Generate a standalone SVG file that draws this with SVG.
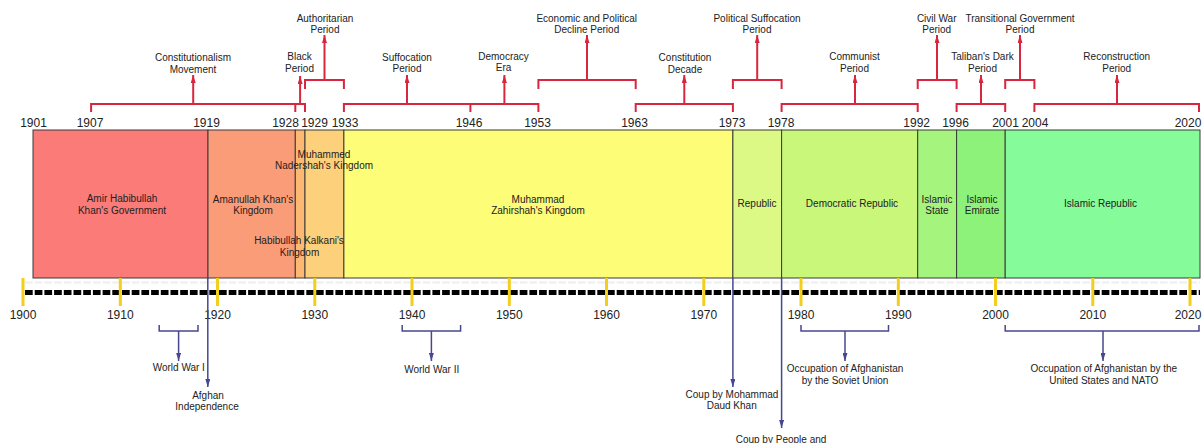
<svg xmlns="http://www.w3.org/2000/svg" width="1203" height="443" viewBox="0 0 1203 443">
<style>
text { font-family: "Liberation Sans", Arial, sans-serif; fill: #222; text-anchor: middle; }
.lbl { font-size: 10px; }
.yr { font-size: 12px; }
.box { stroke: #3a3a3a; stroke-width: 1; }
.red { stroke: #d8263f; stroke-width: 2; fill: none; }
.redA { stroke: #d8263f; stroke-width: 2; fill: none; marker-end: url(#ra); }
.blue { stroke: #474790; stroke-width: 1.5; fill: none; }
.blueA { stroke: #474790; stroke-width: 1.5; fill: none; marker-end: url(#ba); }
.tick { stroke: #f2cf1d; stroke-width: 3; }
</style>
<defs>
<marker id="ra" viewBox="0 0 8 5" refX="8" refY="2.5" markerWidth="8" markerHeight="5" markerUnits="userSpaceOnUse" orient="auto"><path d="M0,0 L8,2.5 L0,5 z" fill="#d8263f"/></marker>
<marker id="ba" viewBox="0 0 8 5" refX="8" refY="2.5" markerWidth="8" markerHeight="5" markerUnits="userSpaceOnUse" orient="auto"><path d="M0,0 L8,2.5 L0,5 z" fill="#474790"/></marker>
</defs>
<rect width="1203" height="443" fill="#ffffff"/>

<!-- eras -->
<g id="era-amir"><rect class="box" x="33" y="130" width="175" height="148" fill="#fa7b78"/>
<text class="lbl" x="122" y="201.5">Amir Habibullah</text><text class="lbl" x="122" y="214">Khan's Government</text></g>
<g id="era-amanullah"><rect class="box" x="208" y="130" width="87.3" height="148" fill="#fb9c78"/>
<text class="lbl" x="253" y="202.5">Amanullah Khan's</text><text class="lbl" x="253" y="214">Kingdom</text></g>
<g id="era-kalkani"><rect class="box" x="295.3" y="130" width="9.7" height="148" fill="#fdb872"/></g>
<g id="era-nadershah"><rect class="box" x="305" y="130" width="38.9" height="148" fill="#fdd07c"/></g>
<g id="era-zahirshah"><rect class="box" x="343.9" y="130" width="389" height="148" fill="#fdfd78"/>
<text class="lbl" x="538" y="202.5">Muhammad</text><text class="lbl" x="538" y="214">Zahirshah's Kingdom</text></g>
<g id="era-republic"><rect class="box" x="732.9" y="130" width="48.7" height="148" fill="#dcf885"/>
<text class="lbl" x="757" y="206.5">Republic</text></g>
<g id="era-democratic"><rect class="box" x="781.6" y="130" width="136.1" height="148" fill="#c8f77a"/>
<text class="lbl" x="852" y="206.5">Democratic Republic</text></g>
<g id="era-islamic-state"><rect class="box" x="917.7" y="130" width="38.9" height="148" fill="#a5f47e"/>
<text class="lbl" x="937" y="202.5">Islamic</text><text class="lbl" x="937" y="214">State</text></g>
<g id="era-emirate"><rect class="box" x="956.6" y="130" width="48.6" height="148" fill="#8df27a"/>
<text class="lbl" x="982" y="202.5">Islamic</text><text class="lbl" x="982" y="214">Emirate</text></g>
<g id="era-islamic-republic"><rect class="box" x="1005.2" y="130" width="194.8" height="148" fill="#86fb99"/>
<text class="lbl" x="1100.5" y="206.5">Islamic Republic</text></g>
<g id="era-labels-overlap">
<text class="lbl" x="324" y="157.7">Muhammed</text><text class="lbl" x="324" y="169">Nadershah's Kingdom</text>
<text class="lbl" x="299" y="244.3">Habibullah Kalkani's</text><text class="lbl" x="299.5" y="256">Kingdom</text>
</g>

<!-- top year labels -->
<g id="years-top" class="yr">
<text class="yr" x="33.5" y="126.5">1901</text>
<text class="yr" x="90" y="126.5">1907</text>
<text class="yr" x="206.5" y="126.5">1919</text>
<text class="yr" x="285.5" y="126.5">1928</text>
<text class="yr" x="314.5" y="126.5">1929</text>
<text class="yr" x="345" y="126.5">1933</text>
<text class="yr" x="469" y="126.5">1946</text>
<text class="yr" x="537.5" y="126.5">1953</text>
<text class="yr" x="634.5" y="126.5">1963</text>
<text class="yr" x="732" y="126.5">1973</text>
<text class="yr" x="781" y="126.5">1978</text>
<text class="yr" x="916.7" y="126.5">1992</text>
<text class="yr" x="955.5" y="126.5">1996</text>
<text class="yr" x="1005.5" y="126.5">2001</text>
<text class="yr" x="1035" y="126.5">2004</text>
<text class="yr" x="1188" y="126.5">2020</text>
</g>

<!-- axis -->
<g id="axis">
<line x1="25" y1="282.5" x2="1200" y2="282.5" stroke="#eeeeee" stroke-width="2" stroke-dasharray="7.7 2"/>
<line x1="25" y1="292.5" x2="1200" y2="292.5" stroke="#000" stroke-width="5" stroke-dasharray="7.7 2"/>
<line class="tick" x1="23" y1="278" x2="23" y2="306"/>
<line class="tick" x1="120.3" y1="278" x2="120.3" y2="306"/>
<line class="tick" x1="217.5" y1="278" x2="217.5" y2="306"/>
<line class="tick" x1="314.8" y1="278" x2="314.8" y2="306"/>
<line class="tick" x1="412" y1="278" x2="412" y2="306"/>
<line class="tick" x1="509.3" y1="278" x2="509.3" y2="306"/>
<line class="tick" x1="606.5" y1="278" x2="606.5" y2="306"/>
<line class="tick" x1="703.8" y1="278" x2="703.8" y2="306"/>
<line class="tick" x1="801" y1="278" x2="801" y2="306"/>
<line class="tick" x1="898.3" y1="278" x2="898.3" y2="306"/>
<line class="tick" x1="995.5" y1="278" x2="995.5" y2="306"/>
<line class="tick" x1="1092.8" y1="278" x2="1092.8" y2="306"/>
<line class="tick" x1="1190" y1="278" x2="1190" y2="306"/>
<text class="yr" x="23" y="319">1900</text>
<text class="yr" x="120.3" y="319">1910</text>
<text class="yr" x="217.5" y="319">1920</text>
<text class="yr" x="314.8" y="319">1930</text>
<text class="yr" x="412" y="319">1940</text>
<text class="yr" x="509.3" y="319">1950</text>
<text class="yr" x="606.5" y="319">1960</text>
<text class="yr" x="703.8" y="319">1970</text>
<text class="yr" x="801" y="319">1980</text>
<text class="yr" x="898.3" y="319">1990</text>
<text class="yr" x="995.5" y="319">2000</text>
<text class="yr" x="1092.8" y="319">2010</text>
<text class="yr" x="1188" y="319">2020</text>
</g>

<!-- connectors -->
<g id="connectors">
<path class="red" d="M91.1,112 V104 H305 V112 M295.3,104 V112"/>
<path class="redA" d="M193.2,104 V75"/>
<path class="redA" d="M300.1,104 V76"/>
<path class="red" d="M305,89 V80 H343.9 V89"/>
<path class="redA" d="M324.5,80 V35"/>
<path class="red" d="M343.9,112 V104 H538.4 V112 M470.4,104 V112"/>
<path class="redA" d="M407,104 V75"/>
<path class="redA" d="M504.4,104 V75"/>
<path class="red" d="M538.4,89 V80 H635.7 V89"/>
<path class="redA" d="M587,80 V35"/>
<path class="red" d="M635.7,112 V104 H732.9 V112"/>
<path class="redA" d="M684.3,104 V75"/>
<path class="red" d="M732.9,89 V80 H781.6 V89"/>
<path class="redA" d="M757.2,80 V35"/>
<path class="red" d="M781.6,112 V104 H917.7 V112"/>
<path class="redA" d="M855,104 V75"/>
<path class="red" d="M917.7,89 V80 H956.6 V89"/>
<path class="redA" d="M937,80 V35"/>
<path class="red" d="M956.6,112 V104 H1005.2 V112"/>
<path class="redA" d="M981,104 V75"/>
<path class="red" d="M1005.2,89 V80 H1034.4 V89"/>
<path class="redA" d="M1020,80 V35"/>
<path class="red" d="M1034.4,112 V104 H1199 V112"/>
<path class="redA" d="M1117,104 V75"/>

<path class="blue" d="M159.2,325 V331 H198 V325"/>
<path class="blueA" d="M178.6,331 V361"/>
<path class="blueA" d="M207.8,278 V387"/>
<path class="blue" d="M402.2,325 V331 H460.6 V325"/>
<path class="blueA" d="M431.4,331 V361"/>
<path class="blueA" d="M732.9,278 V387"/>
<path class="blueA" d="M781.6,278 V428"/>
<path class="blue" d="M801,325 V331 H888.5 V325"/>
<path class="blueA" d="M845,331 V361"/>
<path class="blue" d="M1005.2,325 V331 H1199 V325"/>
<path class="blueA" d="M1103,331 V361"/>
</g>

<!-- period labels -->
<g id="period-constitutionalism"><text class="lbl" x="193" y="61">Constitutionalism</text><text class="lbl" x="193" y="73">Movement</text></g>
<g id="period-black"><text class="lbl" x="299.5" y="60">Black</text><text class="lbl" x="299.5" y="72">Period</text></g>
<g id="period-authoritarian"><text class="lbl" x="325" y="21.5">Authoritarian</text><text class="lbl" x="325" y="33">Period</text></g>
<g id="period-suffocation"><text class="lbl" x="407" y="60.5">Suffocation</text><text class="lbl" x="407" y="72">Period</text></g>
<g id="period-democracy"><text class="lbl" x="503.5" y="59.5">Democracy</text><text class="lbl" x="503.5" y="71">Era</text></g>
<g id="period-economic"><text class="lbl" x="586.7" y="21.5">Economic and Political</text><text class="lbl" x="586.7" y="33">Decline Period</text></g>
<g id="period-constitution"><text class="lbl" x="685" y="61">Constitution</text><text class="lbl" x="685" y="72.5">Decade</text></g>
<g id="period-political"><text class="lbl" x="757" y="21.5">Political Suffocation</text><text class="lbl" x="757" y="33">Period</text></g>
<g id="period-communist"><text class="lbl" x="854.5" y="60">Communist</text><text class="lbl" x="854.5" y="71.5">Period</text></g>
<g id="period-civilwar"><text class="lbl" x="936.7" y="21.5">Civil War</text><text class="lbl" x="936.7" y="33">Period</text></g>
<g id="period-transitional"><text class="lbl" x="1020" y="21.5">Transitional Government</text><text class="lbl" x="1020" y="33">Period</text></g>
<g id="period-taliban"><text class="lbl" x="982.5" y="60">Taliban's Dark</text><text class="lbl" x="982.5" y="71.5">Period</text></g>
<g id="period-reconstruction"><text class="lbl" x="1116.7" y="60">Reconstruction</text><text class="lbl" x="1116.7" y="71.5">Period</text></g>

<!-- events -->
<g id="event-ww1"><text class="lbl" x="178.8" y="371">World War I</text></g>
<g id="event-independence"><text class="lbl" x="208" y="398.5">Afghan</text><text class="lbl" x="207" y="410">Independence</text></g>
<g id="event-ww2"><text class="lbl" x="431.7" y="372.5">World War II</text></g>
<g id="event-daud"><text class="lbl" x="732" y="397.5">Coup by Mohammad</text><text class="lbl" x="731.7" y="409.3">Daud Khan</text></g>
<g id="event-people"><text class="lbl" x="781" y="442.5">Coup by People and</text></g>
<g id="event-soviet"><text class="lbl" x="845" y="372">Occupation of Afghanistan</text><text class="lbl" x="845" y="384">by the Soviet Union</text></g>
<g id="event-nato"><text class="lbl" x="1103.8" y="372">Occupation of Afghanistan by the</text><text class="lbl" x="1103.8" y="384">United States and NATO</text></g>
</svg>
